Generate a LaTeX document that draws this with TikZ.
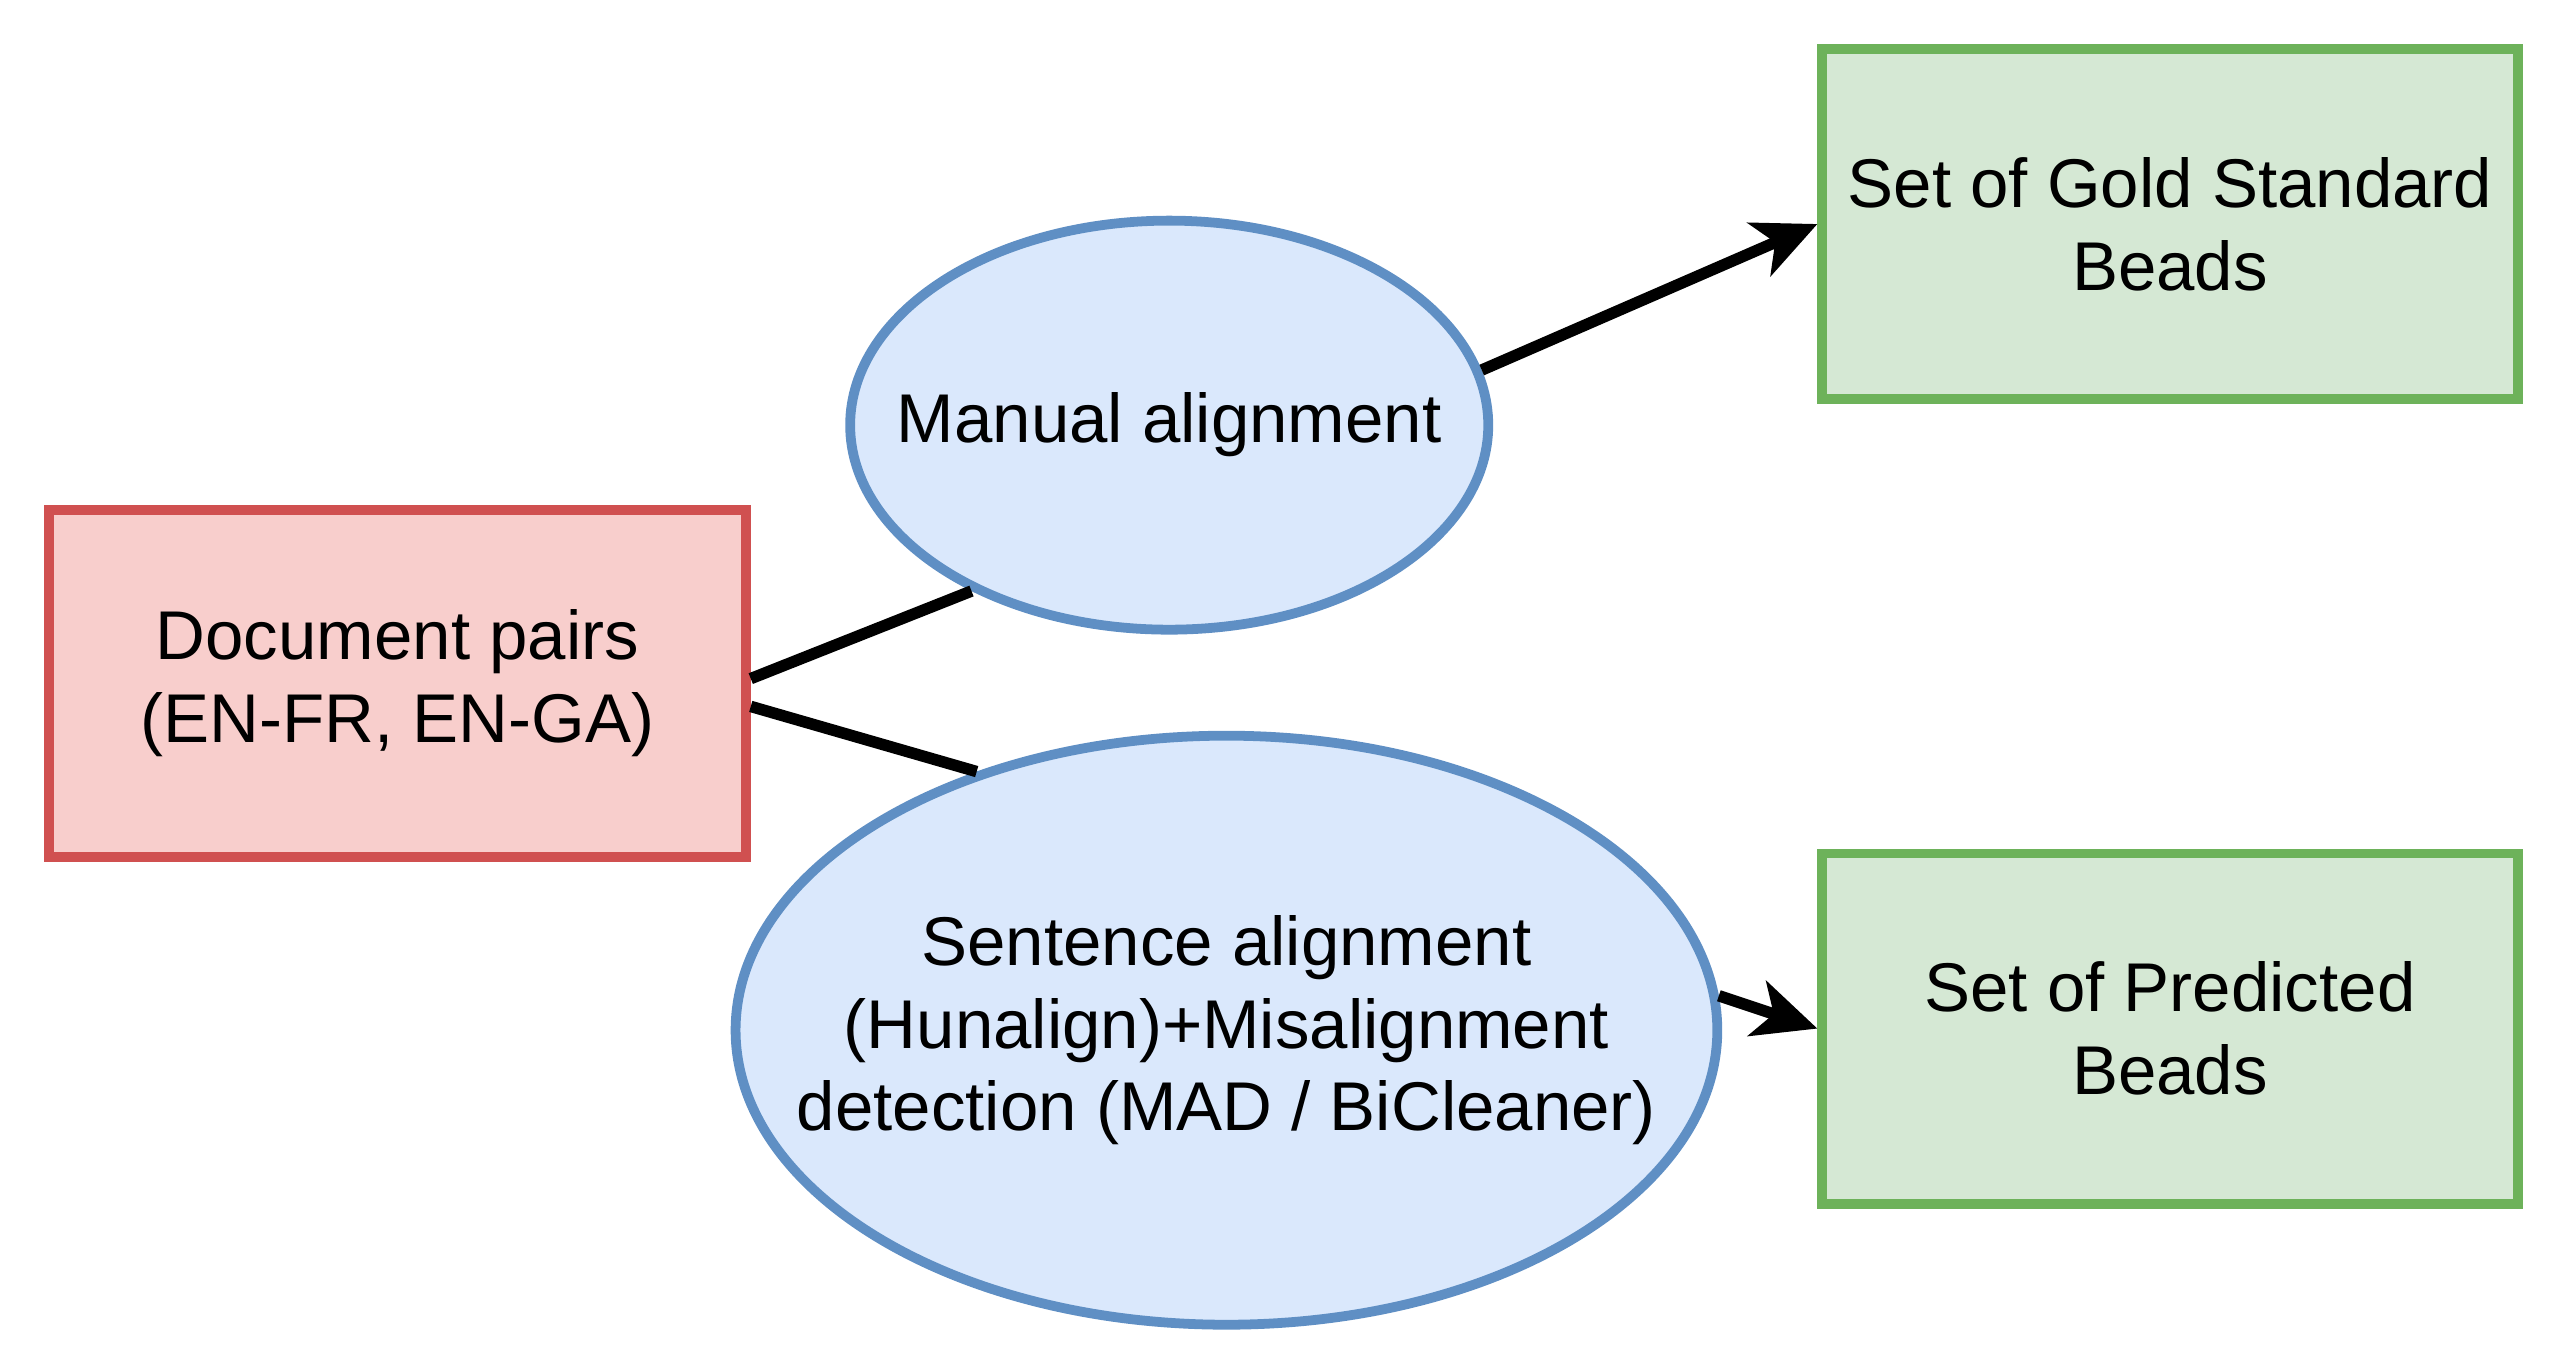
\documentclass[tikz,border=0pt]{standalone}
\usepackage{fontspec}
\setmainfont{Liberation Sans}
\usetikzlibrary{shapes.geometric,arrows.meta}
\definecolor{rf}{HTML}{F8CECC}\definecolor{rs}{HTML}{D05050}
\definecolor{bf}{HTML}{DAE8FC}\definecolor{bs}{HTML}{5F8FC4}
\definecolor{gf}{HTML}{D5E8D4}\definecolor{gs}{HTML}{6DB25A}
\begin{document}
\begin{tikzpicture}[x=0.01cm,y=-0.01cm,
  txt/.style={font=\fontsize{12}{14.4}\selectfont,align=center},
  every node/.style={txt,line width=1.7pt,inner sep=0pt},
  rbox/.style={draw=rs,fill=rf,rectangle,minimum width=4.26cm,minimum height=2.12cm},
  gbox/.style={draw=gs,fill=gf,rectangle,minimum width=4.25cm,minimum height=2.14cm},
  ell/.style={draw=bs,fill=bf,ellipse},
  con/.style={line width=2pt,black},
  arr/.style={con,-{Stealth[length=11pt,width=10pt,inset=3pt]}}]
\useasboundingbox (0,0) rectangle (1560,825);
\node[rbox] (doc) at (243,418) {Document pairs\\(EN-FR, EN-GA)};
\node[ell,minimum width=3.9cm,minimum height=2.5cm,label={[txt]center:Manual alignment}] (man) at (715,260) {};
\node[ell,minimum width=6.0cm,minimum height=3.6cm,label={[txt]center:{Sentence alignment\\(Hunalign)+Misalignment\\detection (MAD / BiCleaner)}}] (sent) at (750,630) {};
\node[gbox] (gold) at (1327,137) {Set of Gold Standard\\Beads};
\node[gbox] (pred) at (1327,629) {Set of Predicted\\Beads};
\draw[con] ([yshift=0.03cm]doc.east) -- (man.220);
\draw[con] ([yshift=-0.14cm]doc.east) -- (sent.134);
\draw[arr] (man.10) -- (gold.west);
\draw[arr] (sent.4) -- (pred.west);
\end{tikzpicture}
\end{document}
